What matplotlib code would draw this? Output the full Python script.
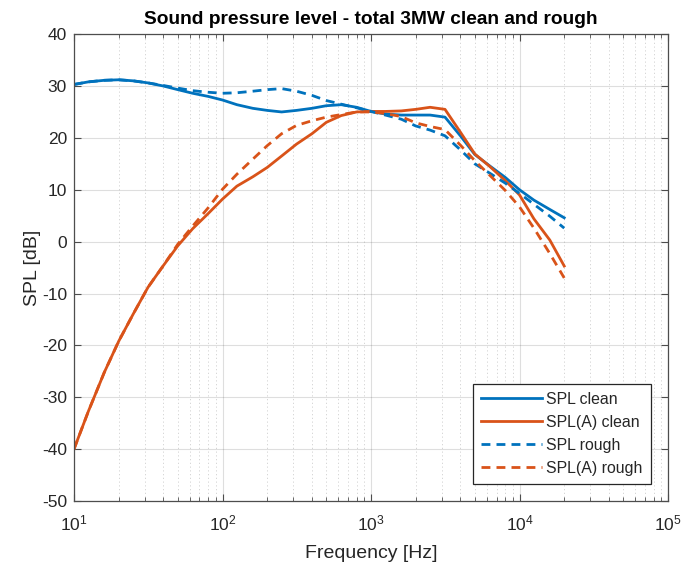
import matplotlib
matplotlib.use("Agg")
import matplotlib.pyplot as plt
from matplotlib.ticker import LogLocator, FixedLocator, NullLocator

plt.rcParams['font.family'] = ['Liberation Sans', 'DejaVu Sans']
plt.rcParams['mathtext.fontset'] = 'custom'
plt.rcParams['mathtext.rm'] = 'Liberation Sans'
plt.rcParams['mathtext.it'] = 'Liberation Sans:italic'
plt.rcParams['axes.unicode_minus'] = False

freq = [10, 12.5, 16, 20, 25, 31.5, 40, 50, 63, 80, 100, 125, 160, 200, 250, 315,
        400, 500, 630, 800, 1000, 1250, 1600, 2000, 2500, 3150, 4000, 5000, 6300,
        8000, 10000, 12500, 16000, 20000]

spl_clean = [30.3, 30.8, 31.1, 31.2, 31.0, 30.6, 30.0, 29.3, 28.6, 28.0, 27.3, 26.4,
             25.7, 25.3, 25.0, 25.3, 25.7, 26.2, 26.4, 25.9, 25.1, 24.6, 24.4, 24.4,
             24.4, 24.0, 20.4, 16.8, 14.6, 12.4, 10.0, 8.0, 6.2, 4.6]

spla_clean = [-40.0, -32.7, -25.2, -19.2, -14.0, -8.8, -4.6, -0.8, 2.5, 5.4, 8.2, 10.7,
              12.5, 14.3, 16.5, 18.8, 20.8, 23.0, 24.3, 25.0, 25.1, 25.1, 25.2, 25.5,
              25.9, 25.5, 21.1, 16.9, 14.5, 11.8, 9.0, 4.4, 0.3, -4.7]

spl_rough = [30.3, 30.8, 31.1, 31.2, 31.0, 30.6, 30.1, 29.6, 29.1, 28.8, 28.6, 28.7,
             29.0, 29.3, 29.5, 29.0, 28.2, 27.2, 26.5, 25.8, 25.1, 24.4, 23.6, 22.3,
             21.5, 20.4, 17.7, 15.0, 13.2, 11.3, 9.3, 7.2, 4.9, 2.6]

spla_rough = [-40.0, -32.7, -25.2, -19.2, -14.0, -8.8, -4.6, -0.5, 3.0, 6.5, 10.1, 13.0,
              15.9, 18.5, 20.8, 22.4, 23.3, 24.0, 24.5, 25.0, 25.0, 24.7, 24.1, 22.9,
              22.2, 21.6, 18.6, 15.6, 12.8, 9.9, 6.7, 2.6, -2.3, -7.0]

labels = ['SPL clean', 'SPL(A) clean', 'SPL rough', 'SPL(A) rough']
title = 'Sound pressure level - total 3MW clean and rough'
xlabel = 'Frequency [Hz]'
ylabel = 'SPL [dB]'
yticks = list(range(-50, 41, 10))

blue = '#0072BD'
orange = '#D95319'
txt = '#262626'
axc = '#4d4d4d'

fig = plt.figure(figsize=(6.82, 5.69), dpi=100)
ax = fig.add_axes([0.1085, 0.1195, 0.871, 0.8205])

ax.semilogx(freq, spl_clean, color=blue, lw=2.0, label=labels[0])
ax.semilogx(freq, spla_clean, color=orange, lw=2.0, label=labels[1])
ax.semilogx(freq, spl_rough, color=blue, lw=2.0, ls=(0, (3.2, 2.2)), label=labels[2])
ax.semilogx(freq, spla_rough, color=orange, lw=2.0, ls=(0, (3.2, 2.2)), label=labels[3])

ax.set_xlim(10, 1e5)
ax.set_ylim(-50, 40)
ax.yaxis.set_major_locator(FixedLocator(yticks))
ax.yaxis.set_minor_locator(NullLocator())
ax.xaxis.set_major_locator(LogLocator(base=10, numticks=10))
ax.xaxis.set_minor_locator(LogLocator(base=10, subs=range(2, 10), numticks=20))

ax.grid(True, which='major', color='#262626', alpha=0.15, lw=0.8, ls='-')
ax.grid(True, which='minor', axis='x', color='#262626', alpha=0.22, lw=0.6, ls=(0, (1.5, 3)))
ax.set_axisbelow(True)

ax.tick_params(which='both', direction='in', top=True, right=True, colors=axc,
               labelcolor=txt, labelsize=12.5)
ax.tick_params(which='major', length=5, width=0.8)
ax.tick_params(which='minor', length=3, width=0.6)
ax.tick_params(axis='x', which='major', pad=9)
ax.tick_params(axis='y', which='major', pad=5)
for s in ax.spines.values():
    s.set_color(axc)
    s.set_linewidth(0.9)

ax.set_title(title, fontsize=13.8, fontweight='bold', color='black', pad=7)
ax.set_xlabel(xlabel, fontsize=14, color=txt, labelpad=8)
ax.set_ylabel(ylabel, fontsize=14, color=txt, labelpad=1)

leg = ax.legend(loc='lower right', fontsize=11.4, handlelength=3.8, handletextpad=0.3,
                labelspacing=0.5, borderpad=0.5, borderaxespad=1.1, fancybox=False,
                framealpha=1, edgecolor='#262626')
leg.get_frame().set_linewidth(0.9)
for t in leg.get_texts():
    t.set_color(txt)

fig.savefig('out.png', dpi=100)
